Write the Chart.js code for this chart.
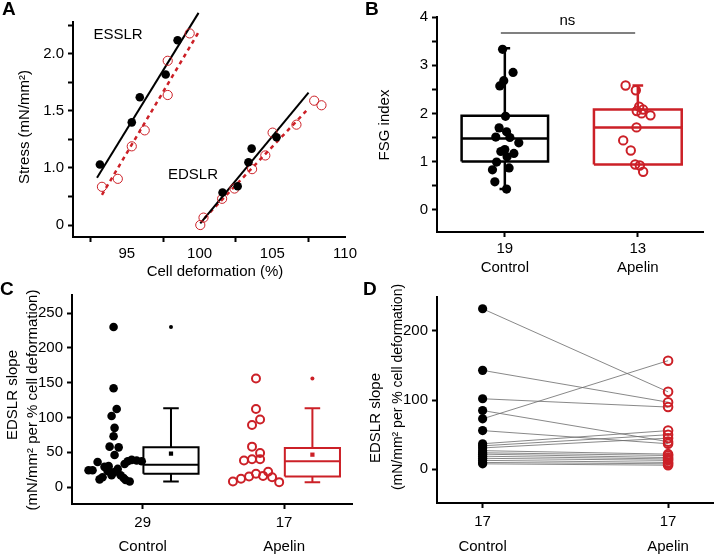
<!DOCTYPE html>
<html>
<head>
<meta charset="utf-8">
<script src="https://cdn.jsdelivr.net/npm/chart.js@4.4.1/dist/chart.umd.min.js"></script>
<style>
  html, body { margin: 0; padding: 0; background: #fff; }
  #wrap { position: relative; width: 720px; height: 556px; }
  #wrap canvas { position: absolute; display: block; }
</style>
</head>
<body>
<div id="wrap">
  <canvas id="chartA" width="360" height="280" style="left:0;top:0"></canvas>
  <canvas id="chartB" width="360" height="280" style="left:360px;top:0"></canvas>
  <canvas id="chartC" width="360" height="276" style="left:0;top:280px"></canvas>
  <canvas id="chartD" width="360" height="276" style="left:360px;top:280px"></canvas>
</div>
<script>
// ---- A: stress vs. cell deformation (ESSLR / EDSLR) ----
const esslrCtrlX = [93.15, 95.34, 95.89, 97.67, 98.49];
const esslrCtrlY = [1.03, 1.40, 1.62, 1.82, 2.12];
const esslrApelX = [93.29, 94.38, 95.34, 96.23, 97.81, 97.81, 99.32];
const esslrApelY = [0.67, 0.81, 1.19, 1.33, 1.64, 1.94, 2.18];
const edslrCtrlX = [101.58, 102.62, 103.36, 103.58, 105.29];
const edslrCtrlY = [0.57, 0.68, 1.05, 1.17, 1.27];
const edslrApelX = [100.05, 100.27, 101.55, 102.40, 103.61, 104.52, 105.02, 106.66, 107.88, 108.38];
const edslrApelY = [0, 0.13, 0.46, 0.64, 0.98, 1.11, 1.31, 1.38, 1.59, 1.55];
// regression lines: start / end
const esslrCtrlFitX = [92.95, 99.93], esslrCtrlFitY = [0.83, 2.36];
const esslrApelFitX = [93.29, 99.93], esslrApelFitY = [0.53, 2.19];
const edslrCtrlFitX = [100.05, 107.49], edslrCtrlFitY = [0.03, 1.66];
const edslrApelFitX = [100.34, 107.33], edslrApelFitY = [0.12, 1.50];
const stressTicks = ['0', '1.0', '1.5', '2.0'];
const deformTicks = [92.5, 95, 97.5, 100, 102.5, 105, 107.5, 110];

// ---- B: FSG index ----
const groups = ['Control', 'Apelin'];
const fsgN = ['19', '13'];
const fsgCtrl = [3.33, 2.85, 2.68, 2.57, 1.94, 1.70, 1.62, 1.51, 1.50, 1.39, 1.25, 1.21, 1.17, 1.10, 0.99, 0.87, 0.83, 0.58, 0.43];
const fsgCtrlJit = [-0.017, 0.062, -0.008, -0.038, 0.005, -0.043, 0.013, -0.068, 0.038, 0.105, 0, -0.03, 0.068, 0.017, -0.062, 0.032, -0.093, -0.075, 0.013];
const fsgApel = [2.58, 2.48, 2.14, 2.08, 2.05, 2.00, 1.96, 1.71, 1.44, 1.23, 0.94, 0.92, 0.79];
const fsgApelJit = [-0.092, -0.015, 0.010, 0.040, -0.008, 0.028, 0.095, -0.010, -0.110, -0.053, -0.020, 0.015, 0.040];
const fsgCtrlBox = { lo: 0.43, q1: 1.0, med: 1.48, q3: 1.95, hi: 3.35 };
const fsgApelBox = { lo: 0.94, q1: 0.94, med: 1.71, q3: 2.08, hi: 2.58 };
const nsLevel = 3.67;

// ---- C: EDSLR slope, all cells ----
const slopeN = ['29', '17'];
const slopeCtrl = [230, 142, 112, 102, 85, 73, 58, 57, 46, 36, 24, 24, 11, 29, 23, 17, 21, 26, 17, 13, 10, 8, 33, 37, 39, 38, 37, 14, 30];
const slopeCtrlJit = [-0.206, -0.206, -0.184, -0.220, -0.199, -0.206, -0.234, -0.170, -0.199, -0.319, -0.383, -0.355, -0.305, -0.270, -0.248, -0.220, -0.206, -0.177, -0.156, -0.135, -0.121, -0.092, -0.128, -0.106, -0.078, -0.043, -0.007, -0.284, -0.241];
const slopeApel = [156, 112, 97, 89, 58, 49, 38, 40, 40, 8, 12, 15, 19, 16, 22, 14, 7];
const slopeApelJit = [-0.199, -0.199, -0.170, -0.227, -0.227, -0.170, -0.284, -0.227, -0.170, -0.362, -0.305, -0.248, -0.199, -0.149, -0.113, -0.085, -0.035];
const slopeCtrlBox = { lo: 8, q1: 19, med: 32, q3: 57, hi: 113, mean: 48, out: 230 };
const slopeApelBox = { lo: 7, q1: 15, med: 37, q3: 56, hi: 113, mean: 46.5, out: 156 };

// ---- D: EDSLR slope, paired ----
const pairN = ['17', '17'];
const pairCtrl = [232, 143, 102, 85, 73, 56, 37, 34, 31, 27, 24, 22, 19, 16, 13, 10, 8];
const pairApel = [112, 97, 90, 40, 157, 37, 56, 50, 45, 22, 20, 17, 15, 13, 10, 8, 6];

const FONT = '"Liberation Sans", Arial, Helvetica, sans-serif';
const RED = '#cc2027';
Chart.defaults.font.family = FONT;
Chart.defaults.font.size = 15;
Chart.defaults.color = '#000';
Chart.defaults.animation = false;

// piecewise stress axis: 0–1.0 then 1.0–2.0 at double scale
const stressAxis = s => (s <= 1 ? s : 1 + (s - 1) * 2);

function range(a, b, step) {
  const out = [];
  for (let i = 0; a + i * step <= b + 1e-9; i++) out.push(+(a + i * step).toFixed(4));
  return out;
}

// text drawn on top of a chart (titles, panel letters, annotations)
function textLayer(items) {
  return {
    id: 'textLayer',
    afterDraw(chart) {
      const ctx = chart.ctx;
      items.forEach(it => {
        const p = typeof it.at === 'function' ? it.at(chart) : it.at;
        ctx.save();
        ctx.font = it.font || '15px ' + FONT;
        ctx.fillStyle = '#000';
        ctx.textAlign = it.align || 'center';
        ctx.textBaseline = it.baseline || 'middle';
        ctx.translate(p[0], p[1]);
        if (it.rotate) ctx.rotate(-Math.PI / 2);
        ctx.fillText(it.text, 0, 0);
        ctx.restore();
      });
    }
  };
}

function yAxis(min, max, tickVals, label, width) {
  return {
    type: 'linear', min, max,
    afterFit: s => { s.width = width; },
    afterBuildTicks: s => { s.ticks = tickVals.map(v => ({ value: v })); },
    ticks: { autoSkip: false, padding: 4, callback: label },
    grid: { drawOnChartArea: false, tickLength: 5, tickColor: '#000', tickWidth: 2 },
    border: { color: '#000', width: 2 }
  };
}

function catAxis(min, max, labels, height, lineHeight, pad) {
  return {
    type: 'linear', min, max,
    afterFit: s => { s.height = height; },
    afterBuildTicks: s => { s.ticks = labels.map((l, i) => ({ value: i })); },
    ticks: { autoSkip: false, maxRotation: 0, padding: pad, font: { size: 15, lineHeight }, callback: v => labels[v] },
    grid: { drawOnChartArea: false, tickLength: 5, tickColor: '#000', tickWidth: 2 },
    border: { color: '#000', width: 2 }
  };
}

// segments -> one line dataset, gaps between segments
function segData(segs) {
  const out = [];
  segs.forEach(s => {
    s.forEach(p => out.push({ x: p[0], y: p[1] }));
    out.push({ x: s[s.length - 1][0], y: null });
  });
  return out;
}

function boxSegs(cx, half, cap, st) {
  const segs = [
    [[cx - half, st.q1], [cx + half, st.q1], [cx + half, st.q3], [cx - half, st.q3], [cx - half, st.q1]],
    [[cx - half, st.med], [cx + half, st.med]]
  ];
  if (st.hi > st.q3) segs.push([[cx, st.q3], [cx, st.hi]], [[cx - cap, st.hi], [cx + cap, st.hi]]);
  if (st.lo < st.q1) segs.push([[cx, st.q1], [cx, st.lo]], [[cx - cap, st.lo], [cx + cap, st.lo]]);
  return segs;
}

function lineSet(data, color, width, extra) {
  return Object.assign({
    type: 'scatter', data, showLine: true, spanGaps: false, pointRadius: 0,
    borderColor: color, borderWidth: width, borderJoinStyle: 'miter', borderCapStyle: 'butt'
  }, extra);
}

function dotSet(data, filled, color, r, bw) {
  return {
    type: 'scatter', data, pointRadius: r, pointHoverRadius: r,
    backgroundColor: filled ? color : 'rgba(0,0,0,0)',
    borderColor: color, borderWidth: filled ? 0 : bw
  };
}

const baseOpts = {
  responsive: false, animation: false, events: [],
  plugins: { legend: { display: false }, tooltip: { enabled: false } }
};

// ---------- A ----------
const ptsA = (X, Y) => X.map((x, i) => ({ x, y: stressAxis(Y[i]) }));
const noClip = { clip: false };
new Chart(document.getElementById('chartA'), {
  type: 'scatter',
  data: {
    datasets: [
      Object.assign(dotSet(ptsA(esslrCtrlX, esslrCtrlY), true, '#000', 4.3), noClip),
      Object.assign(dotSet(ptsA(edslrCtrlX, edslrCtrlY), true, '#000', 4.3), noClip),
      Object.assign(dotSet(ptsA(esslrApelX, esslrApelY), false, RED, 4.6, 1), noClip),
      Object.assign(dotSet(ptsA(edslrApelX, edslrApelY), false, RED, 4.6, 1), noClip),
      lineSet(ptsA(esslrCtrlFitX, esslrCtrlFitY), '#000', 2, noClip),
      lineSet(ptsA(edslrCtrlFitX, edslrCtrlFitY), '#000', 2, noClip),
      lineSet(ptsA(esslrApelFitX, esslrApelFitY), RED, 2.5, { clip: false, borderDash: [4, 4] }),
      lineSet(ptsA(edslrApelFitX, edslrApelFitY), RED, 2.5, { clip: false, borderDash: [4, 4] })
    ]
  },
  options: Object.assign({}, baseOpts, {
    layout: { padding: { left: 0, top: 22, right: 14, bottom: 0 } },
    scales: {
      x: {
        type: 'linear', min: 91.3, max: 110,
        afterFit: s => { s.height = 43; },
        afterBuildTicks: s => { s.ticks = deformTicks.map(v => ({ value: v })); },
        ticks: { autoSkip: false, maxRotation: 0, padding: 3, callback: v => (v % 5 === 0 ? String(v) : '') },
        grid: {
          drawOnChartArea: false, tickLength: 5, tickWidth: 2,
          tickColor: c => (c.tick && c.tick.value % 5 === 0 ? 'rgba(0,0,0,0)' : '#000')
        },
        border: { color: '#000', width: 2 }
      },
      y: yAxis(-0.21, 3.56, range(0, 3.5, 0.5), v => (Number.isInteger(v) ? stressTicks[v] : ''), 73)
    }
  }),
  plugins: [textLayer([
    { text: 'A', at: [2, 10], align: 'left', font: 'bold 19px ' + FONT },
    { text: 'ESSLR', at: [118, 35] },
    { text: 'EDSLR', at: [193, 175] },
    { text: 'Stress (mN/mm²)', at: [25, 127], rotate: true },
    { text: 'Cell deformation (%)', at: [215, 272] }
  ])]
});

// ---------- B ----------
new Chart(document.getElementById('chartB'), {
  type: 'scatter',
  data: {
    datasets: [
      dotSet(fsgCtrl.map((v, i) => ({ x: fsgCtrlJit[i], y: v })), true, '#000', 4.6),
      dotSet(fsgApel.map((v, i) => ({ x: 1 + fsgApelJit[i], y: v })), false, RED, 4.2, 2),
      lineSet(segData(boxSegs(0, 0.325, 0.04, fsgCtrlBox)), '#000', 2.5),
      lineSet(segData(boxSegs(1, 0.33, 0.04, fsgApelBox)), RED, 2.5),
      lineSet([{ x: -0.03, y: nsLevel }, { x: 0.98, y: nsLevel }], '#808080', 2)
    ]
  },
  options: Object.assign({}, baseOpts, {
    layout: { padding: { left: 0, top: 17, right: 17, bottom: 0 } },
    scales: {
      x: catAxis(-0.51, 1.49, groups.map((g, i) => [fsgN[i], g]), 48, 1.27, 2),
      y: yAxis(-0.46, 4, range(0, 4, 0.5), v => (Number.isInteger(v) ? String(v) : ''), 77)
    }
  }),
  plugins: [textLayer([
    { text: 'B', at: [5, 10], align: 'left', font: 'bold 19px ' + FONT },
    { text: 'FSG index', at: [25, 125], rotate: true },
    { text: 'ns', at: c => [c.scales.x.getPixelForValue(0.47), c.scales.y.getPixelForValue(nsLevel) - 12] }
  ])]
});

// ---------- C ----------
const boxC = (st, cx, color) => [
  lineSet(segData(boxSegs(cx, 0.195, 0.055, st)), color, 2),
  { type: 'scatter', data: [{ x: cx, y: st.mean }], pointStyle: 'rect', pointRadius: 3, backgroundColor: color, borderWidth: 0 },
  { type: 'scatter', data: [{ x: cx, y: st.out }], pointRadius: 2, backgroundColor: color, borderWidth: 0 }
];
new Chart(document.getElementById('chartC'), {
  type: 'scatter',
  data: {
    datasets: [
      dotSet(slopeCtrl.map((v, i) => ({ x: slopeCtrlJit[i], y: v })), true, '#000', 4.3),
      dotSet(slopeApel.map((v, i) => ({ x: 1 + slopeApelJit[i], y: v })), false, RED, 4, 2),
      ...boxC(slopeCtrlBox, 0.2, '#000'),
      ...boxC(slopeApelBox, 1.2, RED)
    ]
  },
  options: Object.assign({}, baseOpts, {
    layout: { padding: { left: 0, top: 15, right: 8, bottom: 0 } },
    scales: {
      x: catAxis(-0.5, 1.48, groups.map((g, i) => [slopeN[i], g]), 52, 1.6, 2),
      y: yAxis(-24.4, 275.9, range(0, 250, 50), v => String(v), 72)
    }
  }),
  plugins: [textLayer([
    { text: 'C', at: [0, 10], align: 'left', font: 'bold 19px ' + FONT },
    { text: 'EDSLR slope', at: [13, 115], rotate: true },
    { text: '(mN/mm² per % cell deformation)', at: [33, 120], rotate: true }
  ])]
});

// ---------- D ----------
const pairSegs = pairCtrl.map((v, i) => [[0, v], [1, pairApel[i]]]);
new Chart(document.getElementById('chartD'), {
  type: 'scatter',
  data: {
    datasets: [
      dotSet(pairCtrl.map(v => ({ x: 0, y: v })), true, '#000', 4.6),
      dotSet(pairApel.map(v => ({ x: 1, y: v })), false, RED, 4.3, 2),
      lineSet(segData(pairSegs), '#6a6a6a', 0.8)
    ]
  },
  options: Object.assign({}, baseOpts, {
    layout: { padding: { left: 0, top: 17, right: 2, bottom: 0 } },
    scales: {
      x: catAxis(-0.246, 1.246, groups.map((g, i) => [pairN[i], g]), 53, 1.67, 1),
      y: yAxis(-48.6, 249, range(0, 200, 100), v => String(v), 77)
    }
  }),
  plugins: [textLayer([
    { text: 'D', at: [3, 10], align: 'left', font: 'bold 19px ' + FONT },
    { text: 'EDSLR slope', at: [16, 138], rotate: true, font: '15px ' + FONT },
    { text: '(mN/mm² per % cell deformation)', at: [38, 107], rotate: true, font: '14px ' + FONT }
  ])]
});
</script>
</body>
</html>
